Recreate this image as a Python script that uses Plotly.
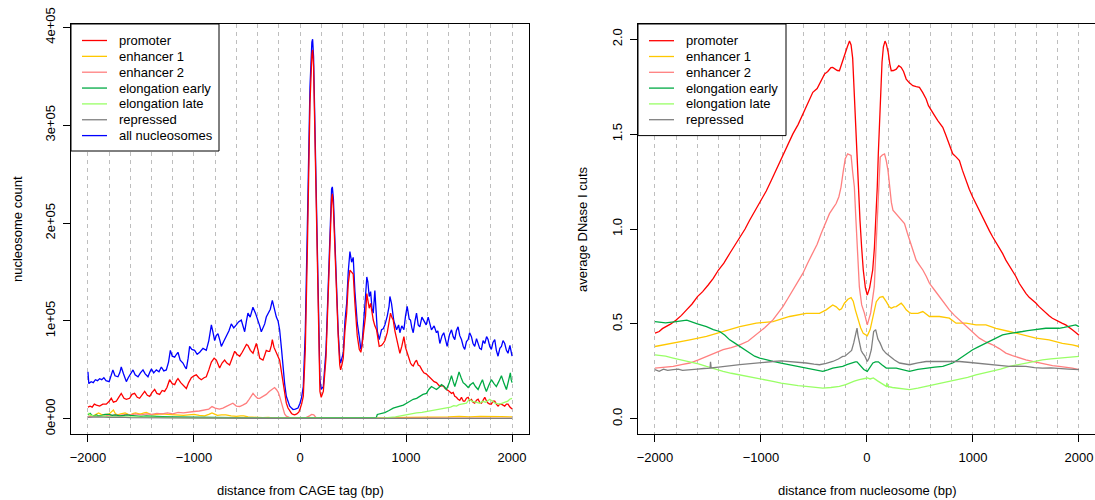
import plotly.graph_objects as go

# ---------------- LEFT PANEL: nucleosome count vs distance from CAGE tag ----------------
all_x = [-2000, -1992, -1970, -1950, -1930, -1910, -1890, -1870, -1850, -1830, -1800, -1780, -1765, -1745, -1717, -1700,
         -1686, -1665, -1650, -1638, -1620, -1600, -1575, -1555, -1528, -1505, -1481, -1460, -1434, -1415, -1402, -1380,
         -1355, -1330, -1308, -1285, -1261, -1240, -1223, -1205, -1182, -1165, -1151, -1130, -1104, -1085, -1072, -1055,
         -1041, -1020, -994, -970, -946, -915, -884, -860, -836, -820, -805, -790, -774, -755, -742, -720, -695, -670,
         -648, -625, -601, -580, -554, -540, -522, -505, -491, -470, -444, -420, -396, -380, -365, -350, -333, -318,
         -302, -280, -261, -240, -223, -207, -192, -175, -160, -145, -129, -113, -97, -80, -66, -45, -19, 0, 15, 31,
         50, 69, 94, 112, 119, 128, 141, 157, 175, 188, 200, 220, 245, 264, 283, 298, 305, 315, 330, 345, 360, 375,
         383, 395, 408, 424, 440, 455, 471, 487, 502, 518, 530, 540, 559, 574, 584, 603, 618, 630, 640, 653, 666, 680,
         691, 706, 718, 729, 747, 769, 785, 801, 823, 840, 848, 863, 885, 900, 911, 930, 942, 960, 980, 995, 1011, 1030,
         1042, 1055, 1068, 1085, 1099, 1115, 1130, 1150, 1168, 1190, 1209, 1225, 1240, 1265, 1287, 1300, 1319, 1340,
         1356, 1370, 1388, 1410, 1429, 1445, 1460, 1475, 1491, 1507, 1523, 1540, 1554, 1570, 1586, 1600, 1617, 1632,
         1648, 1665, 1680, 1695, 1711, 1727, 1743, 1760, 1774, 1790, 1805, 1820, 1837, 1852, 1868, 1885, 1900, 1915,
         1931, 1947, 1962, 1980, 2000]
all_y = [48, 36, 38, 37, 40, 39, 41, 40, 42, 39, 38, 45, 50, 44, 43, 47,
         53, 46, 40, 38, 42, 46, 50, 45, 43, 47, 50, 46, 43, 48, 51, 47,
         50, 48, 53, 49, 50, 58, 70, 64, 63, 66, 68, 60, 57, 53, 51, 62,
         74, 71, 70, 66, 68, 72, 70, 80, 96, 88, 80, 85, 87, 80, 74, 79, 84, 90,
         97, 93, 96, 99, 101, 95, 89, 100, 108, 104, 114, 108, 101, 95, 89, 93, 97, 104,
         108, 112, 121, 110, 104, 100, 91, 72, 53, 36, 23, 17, 13, 11, 9.5, 10, 11, 16, 22, 33,
         90, 195, 339, 385, 388, 370, 300, 195, 90, 40, 30, 33, 70, 130, 200, 235, 237, 225, 180, 130, 90, 62,
         57, 62, 67, 100, 118, 150, 171, 160, 165, 130, 110, 98, 84, 71, 75, 100, 125, 145, 140, 125, 130, 112,
         108, 131, 105, 90, 81, 91, 92, 96, 105, 115, 125, 118, 100, 95, 91, 96, 88, 95, 91, 105, 115, 102,
         101, 93, 88, 100, 108, 96, 94, 104, 101, 96, 104, 97, 91, 95, 88, 90, 77, 85,
         88, 82, 74, 86, 91, 84, 81, 90, 94, 85, 81, 74, 71, 79, 81, 88, 84, 77,
         74, 82, 77, 72, 71, 80, 77, 84, 81, 74, 71, 78, 81, 70, 64, 72, 74, 80,
         77, 70, 67, 75, 64]

prom_x = [-2000, -1980, -1960, -1940, -1920, -1890, -1860, -1827, -1800, -1780, -1760, -1733, -1710, -1686, -1660, -1638,
          -1607, -1585, -1560, -1535, -1513, -1490, -1465, -1440, -1418, -1395, -1371, -1350, -1324, -1300, -1277, -1255,
          -1230, -1205, -1182, -1165, -1151, -1125, -1104, -1085, -1072, -1050, -1025, -1000, -978, -955, -931, -905,
          -884, -860, -836, -810, -789, -770, -758, -735, -711, -690, -664, -640, -616, -595, -569, -545, -522, -505,
          -491, -468, -443, -425, -412, -395, -380, -365, -349, -333, -318, -300, -286, -270, -261, -245, -223, -207,
          -192, -175, -160, -145, -129, -113, -97, -80, -65, -50, -30, -10, 0, 15, 31, 50, 69, 94, 112, 119, 128, 141,
          157, 175, 188, 200, 220, 245, 264, 283, 298, 305, 315, 330, 345, 360, 375, 383, 395, 408, 424, 440, 455, 471,
          487, 502, 518, 530, 540, 559, 574, 584, 603, 618, 630, 640, 653, 666, 680, 691, 706, 722, 747, 769, 785, 801,
          823, 840, 854, 865, 879, 895, 911, 925, 942, 960, 980, 995, 1011, 1030, 1042, 1055, 1068, 1085, 1099, 1115,
          1130, 1150, 1168, 1190, 1209, 1225, 1240, 1265, 1287, 1300, 1319, 1340, 1356, 1370, 1388, 1410, 1429, 1445,
          1460, 1475, 1491, 1507, 1523, 1540, 1554, 1570, 1586, 1600, 1617, 1632, 1648, 1665, 1680, 1695, 1711, 1727,
          1743, 1760, 1774, 1790, 1805, 1820, 1837, 1852, 1868, 1885, 1900, 1915, 1931, 1947, 1962, 1980, 2000]
prom_y = [12, 13, 12, 15, 14, 13, 15, 15, 18, 21, 17, 18, 22, 26, 21, 20,
          21, 25, 26, 22, 21, 25, 28, 24, 23, 27, 30, 26, 25, 29, 28, 32,
          40, 36, 35, 39, 41, 37, 35, 33, 31, 37, 42, 44, 45, 42, 40, 42,
          43, 50, 58, 62, 60, 55, 52, 57, 60, 57, 55, 62, 69, 66, 64, 68, 72, 76,
          75, 70, 67, 72, 77, 70, 62, 61, 60, 65, 70, 69, 69, 75, 81, 73, 67, 64,
          60, 48, 36, 25, 16, 11, 7.5, 5.5, 4.5, 4, 5, 7, 10, 15, 23, 70, 170, 322, 372, 377, 360, 288,
          180, 75, 28, 22, 28, 62, 120, 190, 225, 230, 215, 172, 125, 85, 55, 50, 55, 62, 90, 108, 138, 152,
          150, 148, 118, 100, 85, 71, 68, 74, 92, 105, 128, 122, 113, 118, 105, 101, 95, 91, 74, 75, 77, 80,
          88, 100, 108, 104, 101, 90, 81, 75, 67, 74, 84, 73, 67, 62, 57, 55, 54, 58, 60, 55,
          54, 50, 47, 46, 44, 42, 40, 38, 37, 35, 33, 34, 33, 31, 30, 28, 26, 27,
          23, 22, 20, 19, 22, 18, 18, 21, 22, 19, 20, 17, 16, 19, 20, 17, 16, 19,
          22, 18, 16, 15, 15, 18, 18, 15, 13, 15, 15, 14, 13, 15, 15, 12, 10]

enh2_x = [-2000, -1950, -1900, -1850, -1800, -1750, -1700, -1650, -1600, -1550, -1500, -1450, -1400, -1350, -1300, -1250,
          -1200, -1150, -1100, -1050, -1000, -950, -900, -860, -830, -800, -760, -727, -690, -660, -633, -600, -569,
          -540, -506, -480, -460, -443, -420, -400, -380, -350, -318, -290, -270, -255, -240, -223, -205, -192, -175,
          -160, -145, -129, -100, -50, 0, 60, 90, 110, 130, 150, 200, 400, 800, 1200, 1600, 2000]
enh2_y = [2, 3, 2.5, 4, 3, 4, 3.5, 4.5, 4, 5, 4, 5, 4.5, 5.5, 5, 6,
          5, 6.5, 6, 7, 7.5, 8, 9, 10, 12.5, 11, 10, 11, 13, 15, 16, 13, 12.6,
          14, 16, 20, 24, 26, 23, 21, 21, 23, 25, 28, 30, 31.5, 32, 30, 27, 23, 16,
          9.5, 5, 2.7, 1.5, 1, 1, 1.5, 3, 4.5, 4, 1.5, 0.8, 0.6, 0.6, 0.7, 0.6, 0.5]

enh1_x = [-2000, -1975, -1950, -1925, -1900, -1875, -1850, -1800, -1775, -1760, -1740, -1720, -1690, -1650, -1620, -1600,
          -1570, -1550, -1520, -1500, -1470, -1450, -1420, -1400, -1350, -1300, -1250, -1200, -1150, -1100, -1050, -1000,
          -950, -900, -860, -830, -800, -780, -740, -700, -650, -600, -560, -530, -490, -450, -400, -350, -300, -250,
          -200, -100, 0, 200, 500, 800, 1000, 1200, 1400, 1500, 1600, 1700, 1800, 1900, 2000]
enh1_y = [5, 3.5, 3, 4.5, 6, 4.5, 4, 5, 7, 9, 5, 4, 5, 6, 4.5, 4,
          5.5, 6, 5, 5, 6, 6.5, 5, 4, 4.5, 5, 4.5, 4, 3.5, 3.5, 4, 4.5,
          3.5, 3, 4.5, 6, 4.5, 3.5, 4, 4, 3, 2.5, 3, 3, 2, 1.5, 1.5, 1.2, 1.5, 1,
          1, 0.6, 0.5, 0.5, 0.8, 1, 1.5, 1.5, 2, 2.5, 2, 2.5, 2, 2.2, 2]

elE_x = [-2000, -1980, -1960, -1940, -1920, -1900, -1870, -1840, -1800, -1770, -1740, -1700, -1660, -1630, -1600, -1550,
         -1500, -1450, -1400, -1350, -1300, -1200, -1100, -1000, -900, -800, -600, -400, -200, 0, 200, 400, 600, 700,
         720, 729, 760, 800, 840, 879, 910, 942, 975, 1005, 1035, 1068, 1100, 1130, 1160, 1193, 1215, 1240, 1265, 1287,
         1310, 1334, 1360, 1381, 1405, 1429, 1445, 1460, 1480, 1500, 1520, 1539, 1560, 1586, 1610, 1633, 1655, 1680,
         1700, 1721, 1740, 1758, 1780, 1805, 1830, 1852, 1875, 1900, 1925, 1947, 1965, 1984, 1992, 2000]
elE_y = [4, 5.5, 3.5, 3, 4, 3, 3.5, 4.5, 4.5, 3.5, 4, 3, 3.5, 4, 3.5, 3,
         2.5, 3, 3, 2.5, 2.3, 2, 1.8, 1.5, 1.4, 1.3, 1, 1, 1, 1, 1, 1.1, 1, 1.2,
         1.5, 4.5, 5, 6.3, 8.5, 11, 12, 13, 14, 16, 18, 20, 21, 23, 25, 26, 30, 33, 31, 30,
         32, 35, 33, 30, 36, 44, 38, 33, 40, 48, 42, 37, 35, 32, 35, 37, 33, 30,
         35, 40, 33, 28, 34, 40, 36, 33, 38, 44, 36, 30, 38, 47, 40, 37]

elL_x = [-2000, -1980, -1950, -1900, -1850, -1800, -1700, -1600, -1500, -1300, -1000, -500, 0, 500, 800, 900, 942, 1000,
         1050, 1099, 1150, 1200, 1256, 1300, 1340, 1381, 1420, 1450, 1476, 1500, 1530, 1570, 1590, 1601, 1620, 1650,
         1696, 1720, 1750, 1790, 1810, 1840, 1884, 1910, 1940, 1960, 1978, 2000]
elL_y = [6, 4, 3, 2.5, 3, 2, 2, 1.8, 1.5, 1.3, 1, 0.8, 0.6, 0.7, 1, 2, 3, 4,
         5, 6, 6.5, 7.5, 8, 9, 10, 11, 12, 13.5, 13, 14.5, 15, 16, 19, 20, 18, 17,
         16, 18, 17, 20, 18, 16, 15, 16, 17, 18, 20, 21]

rep_x = [-2000, -1900, -1800, -1700, -1600, -1400, -1200, -1000, -500, 0, 500, 1000, 1500, 2000]
rep_y = [1.5, 2, 1.5, 1.8, 1.2, 1, 1, 0.8, 0.5, 0.4, 0.4, 0.5, 0.5, 0.5]

# ---------------- RIGHT PANEL: average DNase I cuts vs distance from nucleosome ----------------
dprom_x = [-2000, -1960, -1930, -1890, -1850, -1800, -1750, -1702, -1650, -1599, -1550, -1498, -1450, -1401, -1350, -1295,
           -1250, -1200, -1150, -1107, -1050, -1000, -950, -903, -850, -802, -750, -699, -650, -602, -560, -511, -470,
           -430, -401, -370, -340, -323, -300, -280, -260, -240, -213, -185, -165, -150, -135, -123, -108, -91, -78,
           -66, -50, -35, -15, 3, 25, 40, 54, 70, 85, 97, 107, 118, 129, 142, 155, 170, 182, 200, 215, 229, 250, 276,
           300, 323, 345, 370, 400, 433, 465, 495, 525, 558, 580, 605, 635, 668, 690, 715, 740, 762, 785, 809, 840, 872,
           900, 934, 965, 997, 1030, 1060, 1090, 1122, 1155, 1185, 1215, 1248, 1280, 1310, 1340, 1373, 1405, 1436, 1467,
           1499, 1530, 1561, 1593, 1624, 1655, 1687, 1718, 1749, 1780, 1812, 1843, 1875, 1906, 1937, 1969, 2000]
dprom_y = [0.451, 0.46, 0.475, 0.486, 0.50, 0.521, 0.545, 0.574, 0.605, 0.644, 0.67, 0.705, 0.74, 0.784, 0.82, 0.871,
           0.91, 0.959, 1.00, 1.046, 1.10, 1.151, 1.20, 1.256, 1.32, 1.379, 1.44, 1.501, 1.55, 1.606, 1.66, 1.72, 1.74,
           1.78, 1.816, 1.83, 1.85, 1.851, 1.84, 1.835, 1.834, 1.87, 1.921, 1.96, 1.99, 1.97, 1.90, 1.746, 1.58, 1.396, 1.22,
           1.046, 0.90, 0.784, 0.69, 0.652, 0.69, 0.74, 0.784, 0.90, 1.046, 1.22, 1.396, 1.58, 1.746, 1.88, 1.96, 1.99, 1.975, 1.93, 1.87, 1.834, 1.835, 1.842,
           1.86, 1.851, 1.83, 1.79, 1.77, 1.755, 1.75, 1.746, 1.72, 1.685, 1.65, 1.624, 1.60, 1.571, 1.555, 1.536, 1.50, 1.466, 1.43, 1.396, 1.38, 1.361,
           1.31, 1.256, 1.21, 1.169, 1.13, 1.099, 1.06, 1.029, 0.99, 0.959, 0.93, 0.906, 0.87, 0.836, 0.81, 0.784, 0.75, 0.714, 0.685,
           0.661, 0.64, 0.626, 0.61, 0.591, 0.575, 0.556, 0.543, 0.53, 0.52, 0.512, 0.503, 0.495, 0.48, 0.469, 0.455, 0.44]

denh2_x = [-2000, -1915, -1828, -1750, -1671, -1590, -1514, -1435, -1357, -1280, -1200, -1120, -1044, -965, -887, -840,
           -793, -745, -699, -650, -605, -560, -511, -470, -432, -390, -354, -320, -291, -265, -245, -225, -205, -182,
           -165, -150, -135, -119, -104, -88, -72, -50, -25, 3, 15, 35, 50, 69, 85, 98, 110, 125, 145, 166, 182, 198,
           215, 230, 245, 275, 307, 330, 354, 380, 401, 430, 464, 495, 527, 560, 589, 635, 683, 730, 777, 825, 872, 920,
           966, 1013, 1060, 1122, 1185, 1248, 1310, 1373, 1436, 1499, 1561, 1624, 1687, 1750, 1812, 1875, 1937, 2000]
denh2_y = [0.267, 0.27, 0.276, 0.285, 0.294, 0.31, 0.329, 0.345, 0.364, 0.375, 0.39, 0.41, 0.442, 0.48, 0.521, 0.555,
           0.591, 0.635, 0.679, 0.72, 0.766, 0.82, 0.871, 0.92, 0.976, 1.03, 1.081, 1.11, 1.134, 1.17, 1.221, 1.30, 1.37, 1.396,
           1.39, 1.387, 1.30, 1.221, 1.046, 0.871, 0.696, 0.60, 0.558, 0.495, 0.52, 0.558, 0.62, 0.696, 0.90, 1.046, 1.25, 1.379, 1.39, 1.396, 1.36, 1.309,
           1.22, 1.14, 1.099, 1.08, 1.064, 1.05, 1.029, 0.98, 0.941, 0.89, 0.836, 0.81, 0.784, 0.75, 0.714, 0.68, 0.644, 0.61, 0.574, 0.545, 0.521, 0.495,
           0.469, 0.445, 0.425, 0.405, 0.39, 0.37, 0.346, 0.333, 0.32, 0.31, 0.302, 0.294, 0.285, 0.28, 0.276, 0.272, 0.267, 0.259]

denh1_x = [-2000, -1828, -1671, -1514, -1357, -1200, -1044, -887, -730, -574, -448, -385, -323, -290, -260, -240, -213,
           -180, -150, -130, -110, -85, -60, -35, 3, 30, 55, 88, 120, 150, 182, 210, 229, 255, 276, 300, 323, 345, 370,
           400, 417, 480, 527, 589, 683, 777, 840, 934, 1028, 1122, 1216, 1342, 1467, 1593, 1718, 1843, 1937, 2000]
denh1_y = [0.381, 0.398, 0.416, 0.434, 0.46, 0.486, 0.504, 0.512, 0.539, 0.556, 0.556, 0.574, 0.60, 0.59, 0.574, 0.58, 0.609,
           0.63, 0.638, 0.62, 0.574, 0.52, 0.48, 0.45, 0.437, 0.47, 0.53, 0.617, 0.64, 0.644, 0.617, 0.59, 0.582, 0.59, 0.591, 0.60, 0.609, 0.595, 0.574,
           0.56, 0.556, 0.556, 0.565, 0.539, 0.539, 0.53, 0.504, 0.504, 0.495, 0.495, 0.477, 0.46, 0.442, 0.425, 0.416, 0.398, 0.39, 0.381]

delE_x = [-2000, -1900, -1800, -1700, -1600, -1514, -1450, -1389, -1340, -1295, -1250, -1200, -1150, -1107, -1060, -1012,
          -950, -887, -810, -730, -650, -574, -500, -417, -370, -323, -270, -229, -190, -150, -110, -94, -60, -30, 3, 30,
          56, 80, 107, 140, 182, 276, 330, 401, 480, 558, 640, 715, 760, 809, 855, 903, 950, 997, 1045, 1091, 1140, 1185,
          1230, 1279, 1326, 1373, 1420, 1467, 1515, 1561, 1625, 1687, 1750, 1812, 1860, 1906, 1940, 1969, 2000]
delE_y = [0.512, 0.505, 0.512, 0.52, 0.50, 0.486, 0.47, 0.46, 0.44, 0.416, 0.40, 0.381, 0.365, 0.346, 0.33, 0.32,
          0.31, 0.302, 0.293, 0.285, 0.277, 0.267, 0.26, 0.25, 0.258, 0.267, 0.272, 0.276, 0.285, 0.294, 0.30, 0.30, 0.28, 0.26, 0.25, 0.27,
          0.294, 0.30, 0.30, 0.285, 0.267, 0.267, 0.26, 0.25, 0.26, 0.267, 0.272, 0.276, 0.284, 0.294, 0.31, 0.329, 0.345, 0.364, 0.378, 0.39, 0.405, 0.416,
          0.43, 0.442, 0.448, 0.451, 0.455, 0.46, 0.465, 0.469, 0.474, 0.477, 0.478, 0.477, 0.482, 0.486, 0.49, 0.495, 0.486]

delL_x = [-2000, -1900, -1828, -1750, -1671, -1590, -1514, -1435, -1357, -1280, -1200, -1120, -1044, -965, -887, -810,
          -730, -650, -574, -500, -417, -340, -260, -200, -166, -120, -72, -40, 3, 30, 60, 100, 150, 182, 188, 194, 240,
          307, 401, 480, 558, 640, 715, 790, 872, 950, 1028, 1105, 1185, 1260, 1342, 1420, 1499, 1580, 1655, 1735, 1812,
          1900, 2000]
delL_y = [0.337, 0.33, 0.32, 0.31, 0.302, 0.29, 0.276, 0.262, 0.25, 0.24, 0.232, 0.222, 0.215, 0.205, 0.197, 0.188,
          0.18, 0.175, 0.171, 0.166, 0.162, 0.165, 0.171, 0.18, 0.189, 0.198, 0.206, 0.21, 0.215, 0.21, 0.215, 0.20, 0.185, 0.171, 0.19, 0.171, 0.165,
          0.162, 0.154, 0.162, 0.171, 0.18, 0.189, 0.197, 0.206, 0.218, 0.232, 0.242, 0.25, 0.262, 0.276, 0.285, 0.294, 0.303, 0.311, 0.316, 0.32,
          0.325, 0.329]

drep_x = [-2000, -1960, -1920, -1880, -1828, -1780, -1740, -1671, -1600, -1540, -1480, -1476, -1470, -1400, -1357, -1280,
          -1200, -1120, -1044, -965, -887, -810, -730, -650, -574, -500, -448, -385, -323, -270, -229, -208, -180, -145,
          -125, -105, -94, -85, -72, -55, -41, -20, 3, 20, 41, 55, 63, 82, 103, 123, 150, 180, 213, 260, 307, 350, 401,
          480, 558, 640, 715, 790, 872, 950, 1028, 1105, 1185, 1260, 1342, 1420, 1499, 1580, 1655, 1735, 1812, 1900, 2000]
drep_y = [0.259, 0.25, 0.262, 0.255, 0.259, 0.262, 0.255, 0.26, 0.262, 0.265, 0.267, 0.30, 0.268, 0.272, 0.276, 0.28,
          0.285, 0.29, 0.294, 0.298, 0.302, 0.305, 0.302, 0.298, 0.294, 0.288, 0.285, 0.292, 0.302, 0.315, 0.329, 0.33, 0.345, 0.36,
          0.40, 0.45, 0.478, 0.44, 0.398, 0.36, 0.346, 0.33, 0.302, 0.32, 0.364, 0.42, 0.46, 0.47, 0.42, 0.40, 0.364, 0.345, 0.329, 0.31, 0.294, 0.29, 0.285,
          0.295, 0.302, 0.302, 0.302, 0.305, 0.302, 0.298, 0.294, 0.29, 0.285, 0.28, 0.276, 0.277, 0.276, 0.27, 0.267, 0.268, 0.267, 0.262, 0.259]

# ---------------- labels, colours, ticks ----------------
left_names = ["promoter", "enhancer 1", "enhancer 2", "elongation early", "elongation late", "repressed", "all nucleosomes"]
right_names = ["promoter", "enhancer 1", "enhancer 2", "elongation early", "elongation late", "repressed"]
colors = {"promoter": "#FF0000", "enhancer 1": "#FFC800", "enhancer 2": "#FF7F7F",
          "elongation early": "#00AA44", "elongation late": "#99FF66", "repressed": "#808080",
          "all nucleosomes": "#0000FF"}
left_yticks = [0, 100000, 200000, 300000, 400000]
left_yticktext = ["0e+00", "1e+05", "2e+05", "3e+05", "4e+05"]

W, H = 1095, 500
FONT = "Liberation Sans, Arial, Helvetica, sans-serif"
LW = 1.3

fig = go.Figure()

left_series = [("all nucleosomes", all_x, all_y), ("promoter", prom_x, prom_y), ("enhancer 1", enh1_x, enh1_y),
               ("enhancer 2", enh2_x, enh2_y), ("elongation early", elE_x, elE_y),
               ("elongation late", elL_x, elL_y), ("repressed", rep_x, rep_y)]
for name, xs, ys in left_series:
    fig.add_trace(go.Scatter(x=xs, y=[v * 1000 for v in ys], mode="lines", name=name,
                             line=dict(color=colors[name], width=LW), xaxis="x", yaxis="y",
                             showlegend=False, hoverinfo="skip"))

right_series = [("promoter", dprom_x, dprom_y), ("enhancer 1", denh1_x, denh1_y), ("enhancer 2", denh2_x, denh2_y),
                ("elongation early", delE_x, delE_y), ("elongation late", delL_x, delL_y),
                ("repressed", drep_x, drep_y)]
for name, xs, ys in right_series:
    fig.add_trace(go.Scatter(x=xs, y=ys, mode="lines", name=name,
                             line=dict(color=colors[name], width=LW), xaxis="x2", yaxis="y2",
                             showlegend=False, hoverinfo="skip"))

grid = dict(showgrid=True, gridcolor="#BEBEBE", gridwidth=1, griddash="4px,4px")
xcommon = dict(tickmode="linear", tick0=0, dtick=1000, ticks="outside", ticklen=7, tickcolor="black",
               showline=True, linecolor="black", linewidth=1, mirror=True, zeroline=False, automargin=False,
               tickfont=dict(family=FONT, size=13, color="black"), ticklabelstandoff=4,
               minor=dict(tick0=0, dtick=200, ticks="", showgrid=True, gridcolor="#BEBEBE", griddash="4px,4px"),
               **grid)
ycommon = dict(ticks="outside", ticklen=7, tickcolor="black", showline=True, linecolor="black", linewidth=1,
               mirror=True, zeroline=False, showgrid=False, tickangle=-90, automargin=False,
               tickfont=dict(family=FONT, size=13, color="black"), ticklabelstandoff=3)

L0, L1 = 71, 529
R0, R1 = 638, 1095
T, B = 24, 434
fig.update_layout(
    width=W, height=H, margin=dict(l=0, r=0, t=0, b=0, autoexpand=False),
    paper_bgcolor="white", plot_bgcolor="white",
    xaxis=dict(domain=[L0 / W, L1 / W], range=[-2160, 2160], anchor="y", **xcommon),
    yaxis=dict(domain=[1 - B / H, 1 - T / H], range=[-15500, 403500], anchor="x",
               tickvals=left_yticks, ticktext=left_yticktext, **ycommon),
    xaxis2=dict(domain=[R0 / W, R1 / W], range=[-2160, 2151], anchor="y2", **xcommon),
    yaxis2=dict(domain=[1 - B / H, 1 - T / H], range=[-0.08, 2.08], anchor="x2",
                tickmode="linear", tick0=0, dtick=0.5, tickformat=".1f", **ycommon),
    showlegend=False,
)

# axis titles
afont = dict(family=FONT, size=13, color="black")
fig.add_annotation(text="distance from CAGE tag (bp)", x=(L0 + L1) / 2 / W, y=1 - 490 / H, xref="paper", yref="paper",
                   showarrow=False, font=afont, xanchor="center", yanchor="middle")
fig.add_annotation(text="distance from nucleosome (bp)", x=(R0 + 1096) / 2 / W, y=1 - 490 / H, xref="paper", yref="paper",
                   showarrow=False, font=afont, xanchor="center", yanchor="middle")
fig.add_annotation(text="nucleosome count", x=18 / W, y=1 - 229 / H, xref="paper", yref="paper", textangle=-90,
                   showarrow=False, font=afont, xanchor="center", yanchor="middle")
fig.add_annotation(text="average DNase I cuts", x=583 / W, y=1 - 229 / H, xref="paper", yref="paper", textangle=-90,
                   showarrow=False, font=afont, xanchor="center", yanchor="middle")

# legends drawn as boxes with sample lines and text
def add_legend(names, x0, y0, x1, y1, row0, rowstep):
    fig.add_shape(type="rect", xref="paper", yref="paper", x0=x0 / W, x1=x1 / W, y0=1 - y1 / H, y1=1 - y0 / H,
                  fillcolor="white", line=dict(color="black", width=1), layer="above")
    for i, n in enumerate(names):
        yy = 1 - (row0 + i * rowstep) / H
        fig.add_shape(type="line", xref="paper", yref="paper", x0=(x0 + 11) / W, x1=(x0 + 36) / W, y0=yy, y1=yy,
                      line=dict(color=colors[n], width=LW), layer="above")
        fig.add_annotation(text=n, x=(x0 + 46) / W, y=yy, xref="paper", yref="paper", showarrow=False,
                           xanchor="left", yanchor="middle", font=dict(family=FONT, size=13, color="black"))

add_legend(left_names, 71, 24, 219, 151, 40.5, 15.85)
add_legend(right_names, 638, 24, 786, 135.6, 40.7, 15.8)

fig.write_html("out.html")
